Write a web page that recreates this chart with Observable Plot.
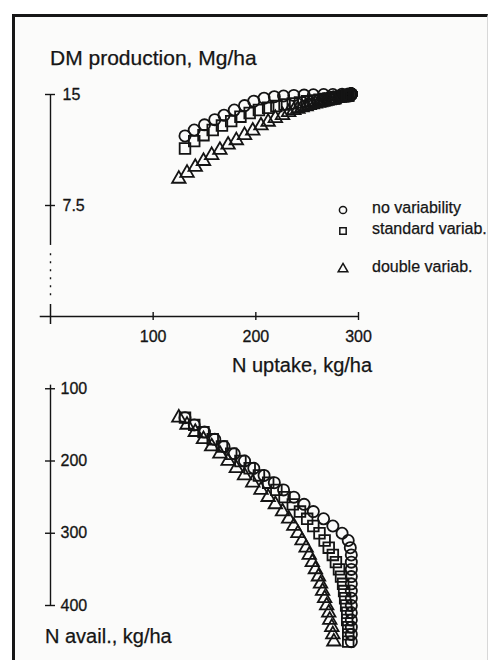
<!DOCTYPE html>
<html>
<head>
<meta charset="utf-8">
<script src="https://cdn.jsdelivr.net/npm/d3@7"></script>
<script src="https://cdn.jsdelivr.net/npm/@observablehq/plot@0.6"></script>
<style>
  body { margin: 0; background: #fff; font-family: "Liberation Sans", Arial, sans-serif; }
  #wrap { position: relative; width: 490px; height: 660px; overflow: hidden; }
  #frame { position: absolute; left: 12px; top: 14px; width: 472px; height: 700px;
           border-top: 3px solid #161616; border-left: 3px solid #161616; border-right: 1px solid #d8d8d8;
           background: #fbfbfa; }
  .lbl { position: absolute; white-space: nowrap; color: #151515; line-height: 1; -webkit-text-stroke: 0.25px #151515; }
  #plots svg { position: absolute; left: 0; top: 0; overflow: visible; }
  .leg { position: absolute; left: 336px; width: 150px; height: 20px; }
</style>
</head>
<body>
<div id="wrap">
  <div id="frame"></div>
  <div id="plots"></div>
  <div class="lbl" id="t-dm" style="left:50px; top:47px; font-size:21px;"></div>
  <div class="lbl" id="t-up" style="left:232px; top:355px; font-size:20px;"></div>
  <div class="lbl" id="t-av" style="left:45px; top:626px; font-size:20px;"></div>
  <div id="legend"></div>
</div>
<script>
// ---- data ----
const seriesNames = ["no variability", "standard variab.", "double variab."];
const seriesSymbols = ["circle", "square", "triangle"];

// N availability (kg/ha) for each simulated point
const nAvail = [140,150,160,170,180,190,200,210,220,230,240,250,260,270,280,290,
                300,310,320,330,340,350,360,370,380,390,400,410,420,430,440,450];

// no variability
const upNone = [131,140,150,160,169,179,189,198,208,218,227,237,247,256,266,275,
                284,290,292,293,293,293,293,293,293,293,293,293,293,293,293,293];
const dmNone = [12.2,12.6,12.95,13.3,13.6,13.95,14.25,14.55,14.75,14.85,14.9,14.94,14.96,14.98,15.0,15.0,
                15.02,15.03,15.03,15.03,15.03,15.03,15.03,15.03,15.03,15.03,15.03,15.03,15.03,15.03,15.03,15.03];

// standard variability
const upStd = [131,140,149,158,167,176,185,194,203,212,220,228,236,243,250,256,
               262,267,271,275,278,281,283,285,286,287,288,289,289,290,290,290];
const dmStd = [11.35,11.85,12.25,12.6,12.9,13.2,13.5,13.75,13.95,14.1,14.22,14.32,14.4,14.47,14.54,14.6,
               14.65,14.7,14.74,14.78,14.81,14.84,14.86,14.88,14.89,14.9,14.91,14.92,14.93,14.94,14.95,14.95];

// double variability
const upDbl = [125,133,141,149,157,165,173,181,189,197,205,212,219,226,232,237,
               241,245,249,252,255,258,261,263,265,267,269,271,272,274,275,276];
const dmDbl = [9.3,9.7,10.1,10.5,10.9,11.25,11.6,11.9,12.25,12.55,12.9,13.15,13.4,13.6,13.8,13.93,
               14.03,14.12,14.2,14.27,14.33,14.38,14.43,14.47,14.5,14.53,14.56,14.59,14.61,14.63,14.65,14.67];

// axes ticks
const uptakeTicks = [0, 100, 200, 300];
const dmTicks = [7.5, 15];
const availTicks = [100, 200, 300, 400];

const titles = { dm: "DM production, Mg/ha", up: "N uptake, kg/ha", av: "N avail., kg/ha" };

// ---- build table ----
const upAll = [upNone, upStd, upDbl];
const dmAll = [dmNone, dmStd, dmDbl];
const rows = [];
seriesNames.forEach((s, k) => {
  nAvail.forEach((a, i) => rows.push({ series: s, avail: a, uptake: upAll[k][i], dm: dmAll[k][i] }));
});

const ink = "#141414";
const markerR = { "circle": 5.6, "square": 6.0, "triangle": 5.0 };
const dotMarks = (yField) => seriesNames.map((s, k) =>
  Plot.dot(rows.filter(d => d.series === s), {
    x: "uptake", y: yField, symbol: seriesSymbols[k], r: markerR[seriesSymbols[k]],
    fill: "none", stroke: ink, strokeWidth: 1.8
  })
);

const commonStyle = { background: "transparent", overflow: "visible", fontFamily: "Liberation Sans, Arial, sans-serif" };
const tickFont = 16;

// top quadrant: DM production vs N uptake
const topPlot = Plot.plot({
  width: 490, height: 345,
  marginLeft: 50, marginRight: 132, marginTop: 94, marginBottom: 29,
  x: { domain: [0, 300], axis: null },
  y: { domain: [0, 15], axis: null },
  style: commonStyle,
  marks: [
    Plot.ruleY([0], { x1: -10, x2: 300, stroke: ink, strokeWidth: 1.5 }),
    Plot.ruleX(uptakeTicks.slice(1), { y1: 0, y2: 0, insetTop: -4, insetBottom: -4, stroke: ink, strokeWidth: 1.4 }),
    Plot.ruleX([0], { y1: 0, y2: 0, insetTop: -12, insetBottom: -8, stroke: ink, strokeWidth: 1.5 }),
    Plot.text(uptakeTicks.slice(1), { x: d => d, y: 0, dy: 20, text: d => String(d), fontSize: tickFont, fill: ink, stroke: ink, strokeWidth: 0.3 }),
    Plot.ruleX([0], { y1: 4.8, y2: 15, stroke: ink, strokeWidth: 1.4 }),
    Plot.ruleX([0], { y1: 1.4, y2: 4.6, stroke: ink, strokeWidth: 1.4, strokeDasharray: "2,6" }),
    Plot.ruleY(dmTicks, { x1: 0, x2: 0, insetLeft: -5, insetRight: -5, stroke: ink, strokeWidth: 1.4 }),
    Plot.text(dmTicks, { x: 0, y: d => d, dx: 12, text: d => String(d), textAnchor: "start", fontSize: tickFont, fill: ink, stroke: ink, strokeWidth: 0.3 }),
    ...dotMarks("dm")
  ]
});

// bottom quadrant: N availability (downwards) vs N uptake
const bottomPlot = Plot.plot({
  width: 490, height: 660,
  marginLeft: 50, marginRight: 132, marginTop: 316, marginBottom: 55,
  x: { domain: [0, 300], axis: null },
  y: { domain: [0, 400], reverse: true, axis: null },
  style: commonStyle,
  marks: [
    Plot.ruleX([0], { y1: 95, y2: 400, stroke: ink, strokeWidth: 1.4 }),
    Plot.ruleY(availTicks, { x1: 0, x2: 0, insetLeft: -5, insetRight: -5, stroke: ink, strokeWidth: 1.4 }),
    Plot.text(availTicks, { x: 0, y: d => d, dx: 10, text: d => String(d), textAnchor: "start", fontSize: tickFont, fill: ink, stroke: ink, strokeWidth: 0.3 }),
    ...dotMarks("avail")
  ]
});

const host = document.getElementById("plots");
host.appendChild(topPlot);
host.appendChild(bottomPlot);

document.getElementById("t-dm").textContent = titles.dm;
document.getElementById("t-up").textContent = titles.up;
document.getElementById("t-av").textContent = titles.av;

// legend
const legTops = [200, 221, 259];
const symMap = { circle: d3.symbolCircle, square: d3.symbolSquare, triangle: d3.symbolTriangle };
const legend = document.getElementById("legend");
seriesNames.forEach((s, k) => {
  const row = document.createElement("div");
  row.className = "leg";
  row.style.top = legTops[k] + "px";
  const sz = Math.PI * 3.6 * 3.6;
  const path = d3.symbol(symMap[seriesSymbols[k]], sz)();
  row.innerHTML =
    `<svg width="20" height="20" style="position:absolute;left:0;top:0"><path d="${path}" transform="translate(7,10)" fill="none" stroke="${ink}" stroke-width="1.5"/></svg>` +
    `<span class="lbl" style="left:36px; top:0px; font-size:16px;">${s}</span>`;
  legend.appendChild(row);
});
</script>
</body>
</html>
